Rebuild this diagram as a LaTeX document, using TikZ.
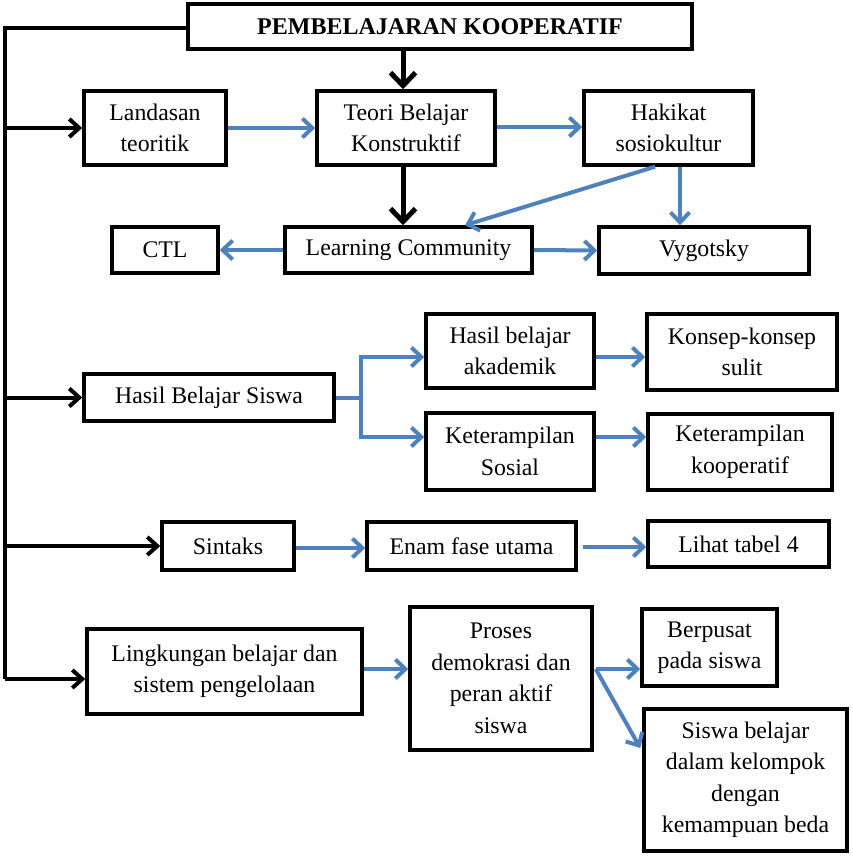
\documentclass[tikz,border=0pt]{standalone}
\usepackage{fontspec}
\setmainfont{Liberation Serif}
\usetikzlibrary{arrows.meta}
\definecolor{cblue}{RGB}{79,129,189}
\begin{document}
\begin{tikzpicture}[x=1pt,y=-1pt,
  box/.style={draw=black,line width=3.5pt,inner sep=0pt,align=center,
    font=\fontsize{23.8}{31.5}\selectfont},
  bl/.style={draw=cblue,line width=4pt,-{Straight Barb[length=10pt,width=19pt]}},
  blkline/.style={draw=black,line width=4pt},
  blk/.style={draw=black,line width=4pt,-{Straight Barb[length=10pt,width=18pt]}},
  blkbig/.style={draw=black,line width=5pt,-{Straight Barb[length=13pt,width=25pt]}}]
\useasboundingbox (0,0) rectangle (852,858);
% nodes
\node[box,minimum width=504pt,minimum height=45pt,font=\fontsize{24}{31.5}\selectfont\bfseries] (title) at (440,26.5) {PEMBELAJARAN KOOPERATIF};
\node[box,minimum width=142pt,minimum height=74pt] (land) at (155,128) {Landasan\\teoritik};
\node[box,minimum width=178pt,minimum height=74pt] (teori) at (406,128) {Teori Belajar\\Konstruktif};
\node[box,minimum width=169pt,minimum height=74pt] (hak) at (668.5,128) {Hakikat\\sosiokultur};
\node[box,minimum width=106pt,minimum height=46pt] (ctl) at (165,250) {CTL};
\node[box,minimum width=247pt,minimum height=46pt] (lc) at (408.5,250) {Learning Community};
\node[box,minimum width=210pt,minimum height=47pt] (vyg) at (704,250.5) {Vygotsky};
\node[box,minimum width=250pt,minimum height=47pt] (hbs) at (209,397.5) {Hasil Belajar Siswa};
\node[box,minimum width=168pt,minimum height=74pt] (hba) at (510,351) {Hasil belajar\\akademik};
\node[box,minimum width=190pt,minimum height=76pt] (kks) at (742,352) {Konsep-konsep\\sulit};
\node[box,minimum width=168pt,minimum height=77pt] (kso) at (510,451.5) {Keterampilan\\Sosial};
\node[box,minimum width=184pt,minimum height=76pt] (kko) at (740,452) {Keterampilan\\kooperatif};
\node[box,minimum width=132pt,minimum height=48pt] (sin) at (228,546) {Sintaks};
\node[box,minimum width=209pt,minimum height=48pt] (enam) at (471.5,546) {Enam fase utama};
\node[box,minimum width=181pt,minimum height=46pt] (lihat) at (738.5,544) {Lihat tabel 4};
\node[box,minimum width=275pt,minimum height=85pt] (ling) at (224.5,671.5) {Lingkungan belajar dan\\sistem pengelolaan};
\node[box,minimum width=182pt,minimum height=143pt] (proses) at (501,678.5) {Proses\\demokrasi dan\\peran aktif\\siswa};
\node[box,minimum width=135pt,minimum height=77pt] (ber) at (709.5,647.5) {Berpusat\\pada siswa};
\node[box,minimum width=203pt,minimum height=142pt] (siswa) at (745.5,780) {Siswa belajar\\dalam kelompok\\dengan\\kemampuan beda};
% trunk
\coordinate (tt) at (5,28);
\coordinate (tb) at (5,679);
\draw[blkline,line join=miter] (title.west |- tt) -- (tt) -- (tb);
\draw[blk] (tt |- land.west) -- (land.west);
\draw[blk] (tt |- hbs.west) -- (hbs.west);
\draw[blk] (tt |- sin.west) -- (sin.west);
\draw[blk] (tb) -- (tb -| ling.west);
% black verticals
\draw[blkbig] ([xshift=-3pt]teori.north |- title.south) -- ([xshift=-3pt]teori.north);
\draw[blkbig] ([xshift=-3pt]teori.south) -- ([xshift=-3pt]teori.south |- lc.north);
% blue connectors
\draw[bl] (land.east) -- (teori.west);
\draw[bl] ([yshift=1pt]teori.east) -- ([yshift=1pt]hak.west);
\draw[bl] ([xshift=11.5pt]hak.south) -- ([xshift=11.5pt]hak.south |- vyg.north);
\draw[bl] ([xshift=-13.5pt]hak.south) -- ([xshift=56.5pt]lc.north);
\draw[bl] (lc.west) -- (ctl.east);
\draw[bl] (lc.east) -- (vyg.west);
\coordinate (br) at (361,397.5);
\draw[draw=cblue,line width=4pt] (hbs.east) -- (br);
\draw[bl] (br) |- ([yshift=-6pt]hba.west);
\draw[bl] (br) |- ([yshift=14.5pt]kso.west);
\draw[bl] ([yshift=-6pt]hba.east) -- ([yshift=-6pt]hba.east -| kks.west);
\draw[bl] ([yshift=14.5pt]kso.east) -- ([yshift=14.5pt]kso.east -| kko.west);
\draw[bl] ([yshift=-2pt]sin.east) -- ([yshift=-2pt]sin.east -| enam.west);
\draw[bl] ([xshift=5pt,yshift=-1pt]enam.east) -- ([yshift=-1pt]enam.east -| lihat.west);
\draw[bl] ([yshift=2.5pt]ling.east) -- ([yshift=2.5pt]ling.east -| proses.west);
\coordinate (pj) at ([xshift=2pt,yshift=9.5pt]proses.east);
\draw[bl] (pj) -- (pj -| ber.west);
\draw[bl] (pj) -- ([xshift=-2pt,yshift=32pt]siswa.west);
\end{tikzpicture}
\end{document}
